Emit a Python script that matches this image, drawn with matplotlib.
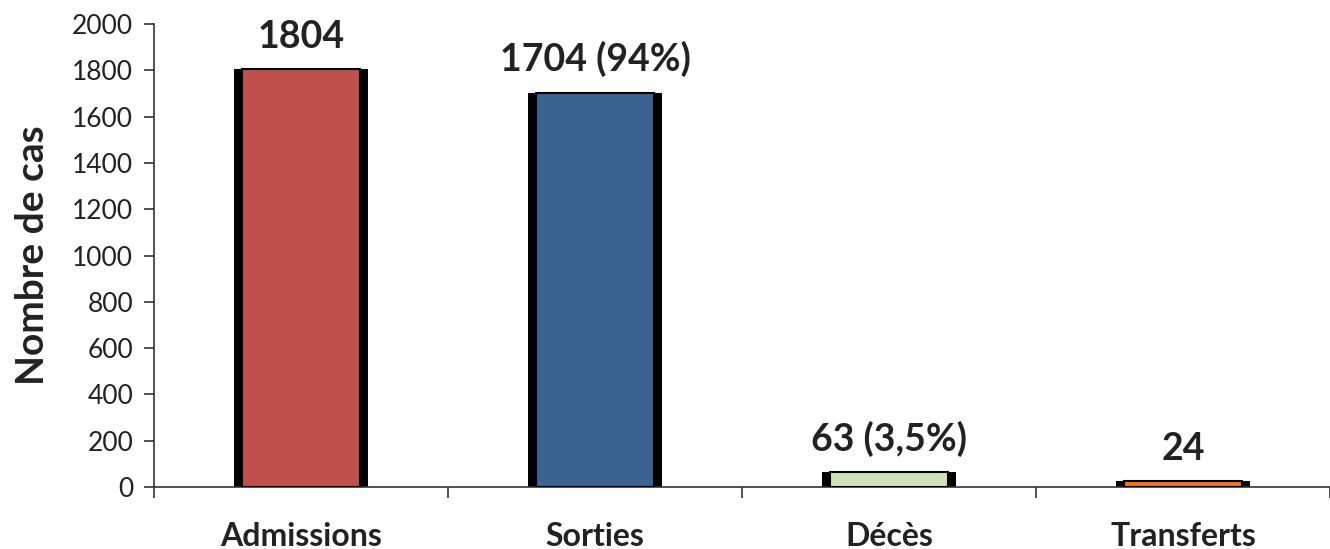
import matplotlib.pyplot as plt
import numpy as np

categories = ['Admissions', 'Sorties', 'Décès', 'Transferts']
values = [1804, 1704, 63, 24]
labels = ['1804', '1704 (94%)', '63 (3,5%)', '24']
colors = ['#C0504D', '#3A6392', '#CDE2B9', '#EE7623']

plt.rcParams['font.family'] = ['Lato', 'DejaVu Sans']

fig = plt.figure(figsize=(13.3, 5.49), dpi=100)
ax = fig.add_axes([0.1158, 0.1129, 0.8842, 0.8434])

x = np.arange(len(categories))
# black "side" shadow behind each bar
ax.bar(x, values, width=0.455, color='black', zorder=2)
ax.bar(x, values, width=0.40, color=colors, edgecolor='black', linewidth=1.5, zorder=3)

for xi, v, lab in zip(x, values, labels):
    ax.annotate(lab, (xi, v), xytext=(0, 11), textcoords='offset points',
                ha='center', va='bottom', fontsize=27, fontweight='bold', color='#222222')

ax.set_xlim(-0.5, len(categories) - 0.5)
ax.set_ylim(0, 2000)
ax.set_yticks(range(0, 2001, 200))
ax.set_xticks(x)
ax.set_xticklabels(categories, fontsize=23, fontweight='bold', color='#222222')
ax.set_xticks(np.arange(-0.5, len(categories), 1.0), minor=True)
ax.tick_params(axis='x', which='major', length=0, pad=25)
ax.tick_params(axis='x', which='minor', length=8, width=1.2, color='#333333')
ax.tick_params(axis='y', labelsize=19, length=7, width=1.2, color='#333333', labelcolor='#222222', pad=8)

ax.set_ylabel('Nombre de cas', fontsize=28, fontweight='bold', color='#222222', labelpad=16)

for s in ['top', 'right']:
    ax.spines[s].set_visible(False)
for s in ['left', 'bottom']:
    ax.spines[s].set_linewidth(1.2)
    ax.spines[s].set_color('#333333')

fig.savefig('out.png', dpi=100)
